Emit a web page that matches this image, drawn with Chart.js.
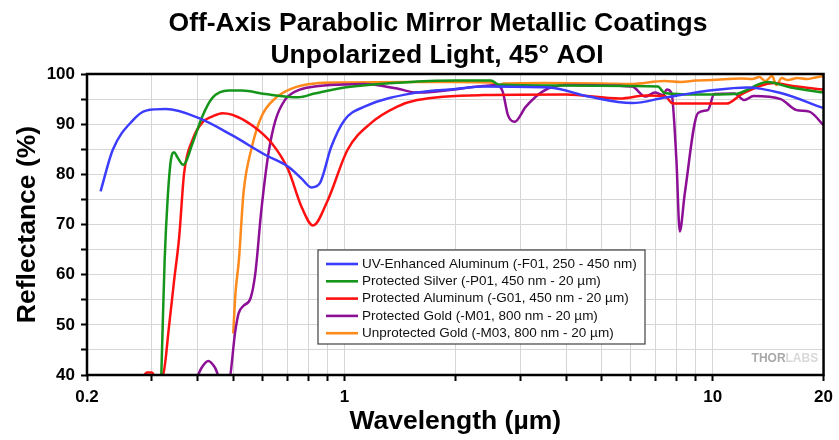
<!DOCTYPE html>
<html>
<head>
<meta charset="utf-8">
<script src="https://cdn.jsdelivr.net/npm/chart.js@4.4.1/dist/chart.umd.min.js"></script>
<style>
  html, body { margin: 0; padding: 0; background: #fff; }
  #wrap { width: 839px; height: 440px; }
</style>
</head>
<body>
<div id="wrap"><canvas id="myChart"></canvas></div>
<script>
// values (wavelength in µm, reflectance in %)
const seriesNames = [
  'UV-Enhanced Aluminum (-F01, 250 - 450 nm)',
  'Protected Silver (-P01, 450 nm - 20 µm)',
  'Protected Aluminum (-G01, 450 nm - 20 µm)',
  'Protected Gold (-M01, 800 nm - 20 µm)',
  'Unprotected Gold (-M03, 800 nm - 20 µm)'
];
const seriesColors = ['#3c3cff', '#15961a', '#ff1010', '#8c0f96', '#ff8a1c'];

const uvAlWl = [0.2177, 0.235, 0.2667, 0.2894, 0.3277, 0.403, 0.495, 0.609, 0.704, 0.764, 0.813, 0.857, 0.921, 1.0, 1.133, 1.575, 2.0, 2.38, 3.6, 4.61, 6.04, 7.42, 10.1, 12.4, 15.3, 20];
const uvAlR  = [76.6, 84.9, 90.8, 92.7, 93.0, 91.2, 87.8, 83.9, 81.5, 79.2, 77.4, 78.2, 85.5, 90.8, 93.5, 96.3, 97.0, 97.5, 97.3, 95.5, 94.2, 95.3, 96.8, 97.3, 96.2, 93.2];

const agWl = [0.318, 0.321, 0.325, 0.331, 0.338, 0.345, 0.352, 0.365, 0.387, 0.411, 0.4375, 0.485, 0.527, 0.609, 0.749, 0.83, 1.0, 1.575, 2.0, 2.5, 2.62, 4.0, 6.0, 7.1, 7.4, 9.0, 11.45, 14.1, 16.3, 20];
const agR  = [39.0, 49.6, 62.9, 74.9, 82.9, 84.4, 83.4, 81.9, 86.2, 91.5, 95.2, 96.7, 96.7, 96.0, 95.35, 96.1, 97.3, 98.5, 98.7, 98.7, 97.9, 97.7, 97.6, 97.5, 96.2, 95.9, 96.0, 98.4, 97.3, 96.3];

const alWl = [0.283, 0.291, 0.300, 0.308, 0.322, 0.334, 0.345, 0.356, 0.367, 0.387, 0.411, 0.44, 0.466, 0.495, 0.561, 0.635, 0.704, 0.764, 0.822, 0.902, 1.02, 1.18, 1.392, 1.575, 2.38, 4.0, 5.6, 6.6, 7.4, 7.8, 10.9, 12.0, 14.7, 16.5, 20];
const alR  = [39.4, 40.5, 40.5, 39.4, 40.2, 49.7, 59.0, 67.6, 80.2, 86.9, 90.3, 91.6, 92.2, 91.9, 89.8, 86.2, 80.9, 73.6, 69.8, 74.9, 84.9, 90.2, 93.5, 94.8, 95.8, 95.9, 95.1, 95.7, 95.6, 94.1, 94.1, 96.0, 98.2, 97.6, 96.9];

const auWl = [0.395, 0.41, 0.427, 0.445, 0.462, 0.485, 0.506, 0.516, 0.532, 0.556, 0.573, 0.595, 0.622, 0.65, 0.689, 0.74, 0.83, 1.0, 1.13, 1.39, 1.575, 2.38, 2.59, 2.69, 2.78, 2.90, 3.11, 3.45, 3.99, 6.04, 6.56, 6.97, 7.34, 7.50, 7.73, 7.97, 8.14, 8.40, 9.12, 9.70, 10.1, 11.45, 12.2, 12.9, 15.3, 16.9, 18.3, 20];
const auR  = [39.0, 41.5, 42.8, 41.5, 39.0, 39.0, 49.0, 52.3, 53.8, 55.3, 60.3, 72.9, 84.2, 90.8, 94.8, 96.6, 97.5, 97.9, 98.0, 97.1, 96.3, 97.6, 97.8, 96.5, 91.8, 90.5, 93.5, 96.5, 97.8, 97.5, 95.5, 96.3, 95.8, 96.9, 96.2, 82.9, 68.6, 76.2, 92.2, 92.8, 96.0, 96.1, 94.8, 95.6, 95.0, 92.8, 92.5, 89.8];

const bareAuWl = [0.499, 0.506, 0.517, 0.532, 0.561, 0.595, 0.65, 0.719, 0.83, 1.0, 1.5, 2.0, 2.5, 2.6, 2.7, 3.5, 5.0, 6.0, 7.4, 8.2, 9.0, 10.0, 11.0, 12.0, 12.8, 13.4, 13.9, 14.5, 14.9, 15.4, 16.0, 17.0, 18.0, 19.0, 20];
const bareAuR  = [48.3, 56.3, 62.9, 76.2, 85.5, 91.5, 95.2, 97.1, 98.1, 98.3, 98.4, 98.4, 98.3, 97.5, 98.1, 98.2, 98.1, 98.0, 98.6, 98.4, 98.7, 98.8, 99.0, 99.1, 99.0, 99.4, 98.6, 99.6, 97.8, 99.2, 98.8, 99.2, 99.0, 99.3, 99.6];

const xTickValues = [0.2, 0.3, 0.4, 0.5, 0.6, 0.7, 0.8, 0.9, 1, 2, 3, 4, 5, 6, 7, 8, 9, 10, 20];
const xTickLabels = ['0.2', '1', '10', '20'];

const FONT = "'Liberation Sans', Arial, sans-serif";

const wl = [uvAlWl, agWl, alWl, auWl, bareAuWl];
const refl = [uvAlR, agR, alR, auR, bareAuR];

const datasets = seriesNames.map((name, i) => ({
  label: name,
  data: wl[i].map((x, j) => ({ x: x, y: refl[i][j] })),
  borderColor: seriesColors[i],
  backgroundColor: seriesColors[i],
  borderWidth: 2.5,
  pointRadius: 0,
  cubicInterpolationMode: 'monotone',
  fill: false
}));

// title, frame, inset legend and watermark
const decor = {
  id: 'decor',
  afterDatasetsDraw(chart) {
    const ctx = chart.ctx;
    const a = chart.chartArea;
    ctx.save();
    // frame around plot
    ctx.strokeStyle = '#000';
    ctx.lineWidth = 2.5;
    ctx.strokeRect(a.left, a.top, a.right - a.left, a.bottom - a.top);

    // legend box
    const lx = a.left + 231, ly = a.top + 176, lw = 327, lh = 94;
    ctx.fillStyle = '#fff';
    ctx.fillRect(lx, ly, lw, lh);
    ctx.strokeStyle = '#404040';
    ctx.lineWidth = 1.2;
    ctx.strokeRect(lx, ly, lw, lh);
    ctx.font = '13.5px ' + FONT;
    ctx.textBaseline = 'middle';
    chart.data.datasets.forEach((ds, i) => {
      const y = ly + 14 + i * 17.3;
      ctx.strokeStyle = ds.borderColor;
      ctx.lineWidth = 2.6;
      ctx.beginPath();
      ctx.moveTo(lx + 8, y);
      ctx.lineTo(lx + 40, y);
      ctx.stroke();
      ctx.fillStyle = '#111';
      ctx.fillText(ds.label, lx + 44, y);
    });

    // watermark
    ctx.font = 'bold 12px ' + FONT;
    ctx.textBaseline = 'alphabetic';
    ctx.fillStyle = '#a8a8a8';
    ctx.fillText('THOR', a.right - 72, a.bottom - 13);
    const w = ctx.measureText('THOR').width;
    ctx.fillStyle = '#d8d8d8';
    ctx.fillText('LABS', a.right - 72 + w, a.bottom - 13);
    ctx.restore();
  },
  afterDraw(chart) {
    const ctx = chart.ctx;
    ctx.save();
    ctx.fillStyle = '#000';
    ctx.font = 'bold 26.5px ' + FONT;
    ctx.textAlign = 'center';
    ctx.textBaseline = 'alphabetic';
    ctx.fillText('Off-Axis Parabolic Mirror Metallic Coatings', 438, 31);
    ctx.fillText('Unpolarized Light, 45° AOI', 437, 63);
    ctx.restore();
  }
};

new Chart(document.getElementById('myChart').getContext('2d'), {
  type: 'line',
  data: { datasets: datasets },
  plugins: [decor],
  options: {
    responsive: true,
    maintainAspectRatio: false,
    animation: false,
    layout: { padding: { top: 74, right: 10, left: 0, bottom: 0 } },
    plugins: { legend: { display: false }, tooltip: { enabled: false } },
    scales: {
      x: {
        type: 'logarithmic',
        min: 0.2,
        max: 20,
        afterBuildTicks: s => { s.ticks = xTickValues.map(v => ({ value: v })); },
        afterFit: s => { s.height = 65; },
        border: { display: false },
        grid: { color: '#d6d6d6', lineWidth: 1, tickLength: 6, tickColor: '#000', tickWidth: 2 },
        ticks: {
          autoSkip: false,
          maxRotation: 0,
          padding: 6,
          color: '#000',
          font: { family: FONT, size: 17, weight: 'bold' },
          callback: v => xTickLabels.includes(String(v)) ? String(v) : ''
        },
        title: {
          display: true,
          text: 'Wavelength (µm)',
          color: '#000',
          font: { family: FONT, size: 26.5, weight: 'bold' },
          padding: { top: 0, bottom: 2 }
        }
      },
      y: {
        min: 40,
        max: 100,
        afterFit: s => { s.width = 87; },
        border: { display: false },
        grid: { color: '#d6d6d6', lineWidth: 1, tickLength: 6, tickColor: '#000', tickWidth: 2 },
        ticks: {
          stepSize: 5,
          padding: 6,
          color: '#000',
          font: { family: FONT, size: 17, weight: 'bold' },
          callback: v => v % 10 === 0 ? String(v) : ''
        },
        title: {
          display: true,
          text: 'Reflectance (%)',
          color: '#000',
          font: { family: FONT, size: 26.5, weight: 'bold' },
          padding: { top: 12, bottom: 0 }
        }
      }
    }
  }
});
</script>
</body>
</html>
